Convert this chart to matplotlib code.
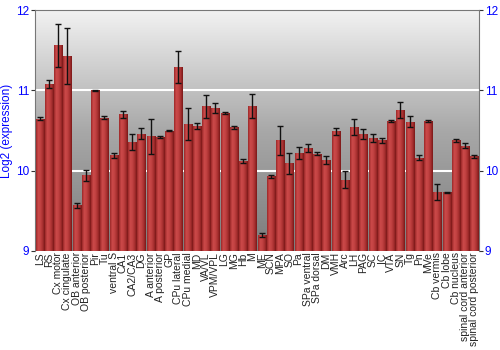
import numpy as np
import matplotlib
matplotlib.use("Agg")
import matplotlib.pyplot as plt
from matplotlib.colors import LinearSegmentedColormap

plt.rcParams['font.family'] = ['Liberation Sans', 'DejaVu Sans']

regions = ["LS", "RS", "Cx motor", "Cx cingulate", "OB anterior", "OB posterior", "Pir", "Tu",
           "ventral S", "CA1", "CA2/CA3", "DG", "A anterior", "A posterior", "GP", "CPu lateral",
           "CPu medial", "MD", "VA/VL", "VPM/VPL", "LG", "MG", "Hb", "M", "ME", "SCN", "MPA", "SO",
           "Pa", "SPa ventral", "SPa dorsal", "DM", "VMH", "Arc", "LH", "PAG", "SC", "IC", "VTA",
           "SN", "Tg", "Pn", "MVe", "Cb vermis", "Cb lobe", "Cb nucleus", "spinal cord anterior",
           "spinal cord posterior"]
expression = [10.65, 11.08, 11.56, 11.43, 9.57, 9.94, 11.00, 10.66,
              10.19, 10.70, 10.36, 10.46, 10.43, 10.42, 10.50, 11.29,
              10.58, 10.56, 10.80, 10.78, 10.72, 10.54, 10.12, 10.81, 9.20, 9.93, 10.38, 10.09,
              10.22, 10.28, 10.21, 10.13, 10.49, 9.89, 10.54, 10.46, 10.41, 10.38, 10.62,
              10.76, 10.61, 10.16, 10.62, 9.73, 9.73, 10.38, 10.31,
              10.18]
errors = [0.02, 0.05, 0.27, 0.35, 0.03, 0.07, 0.01, 0.02,
          0.03, 0.04, 0.10, 0.07, 0.22, 0.01, 0.01, 0.20,
          0.20, 0.04, 0.14, 0.06, 0.01, 0.02, 0.03, 0.15, 0.02, 0.02, 0.18, 0.13,
          0.07, 0.05, 0.02, 0.05, 0.04, 0.10, 0.10, 0.06, 0.05, 0.03, 0.01,
          0.10, 0.07, 0.03, 0.01, 0.10, 0.01, 0.02, 0.03,
          0.02]
y_ticks = [9, 10, 11, 12]

fig = plt.figure(figsize=(5, 3.5), dpi=100)
ax = fig.add_axes([0.07, 0.283, 0.888, 0.688])
ymin, ymax = 9, 12
n = len(regions)
x = np.arange(n)
ax.set_xlim(-0.5, n - 0.5)
ax.set_ylim(ymin, ymax)

# background gradient
bg = LinearSegmentedColormap.from_list('bg', ['#7c7c7c', '#a8a8a8', '#f2f2f2'])
grad = np.linspace(0, 1, 256).reshape(-1, 1)
ax.imshow(grad, cmap=bg, aspect='auto', extent=(-0.5, n - 0.5, ymin, ymax),
          origin='lower', zorder=0)

for yv in [10, 11]:
    ax.axhline(yv, color='white', lw=1.5, zorder=1)

bars = ax.bar(x, [v - ymin for v in expression], bottom=ymin, width=0.88,
              color='#b03535', zorder=2)
barcm = LinearSegmentedColormap.from_list('bar', ['#9a2828', '#cc4a4a', '#c24242', '#a83030', '#7a1818'])
hgrad = np.linspace(0, 1, 64).reshape(1, -1)
for b in bars:
    x0, y0 = b.get_x(), b.get_y()
    im = ax.imshow(hgrad, cmap=barcm, aspect='auto',
                   extent=(x0, x0 + b.get_width(), y0, y0 + b.get_height()), zorder=3)
    im.set_clip_path(b)

ax.errorbar(x, expression, yerr=errors, fmt='none', ecolor='#111111', elinewidth=1,
            capsize=2, capthick=1, zorder=4)

ax.set_yticks(y_ticks)
ax.tick_params(axis='y', which='both', left=True, right=True, labelleft=True, labelright=True,
               direction='out', length=3, colors='#333333', labelcolor='blue', labelsize=8.5, pad=1)
ax.set_xticks(x)
ax.set_xticklabels(regions, rotation=90, fontsize=7.5, color='#222222')
ax.tick_params(axis='x', length=0, pad=1)
ax.set_ylabel('Log2 (expression)', color='blue', fontsize=8.5, labelpad=2)

for s in ['left', 'right', 'top']:
    ax.spines[s].set_color('#777777')
ax.spines['bottom'].set_visible(False)

fig.savefig('out.png', dpi=100)
